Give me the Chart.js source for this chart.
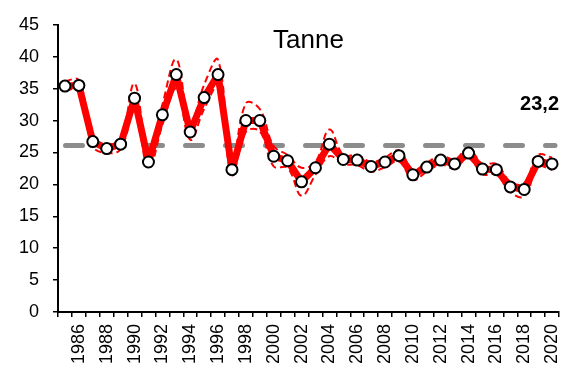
<!DOCTYPE html>
<html>
<head>
<meta charset="utf-8">
<script src="https://cdn.jsdelivr.net/npm/chart.js@4"></script>
<style>
  html, body { margin: 0; padding: 0; background: #fff; }
  #wrap { width: 571px; height: 373px; }
</style>
</head>
<body>
<div id="wrap"><canvas id="chart" width="571" height="373"></canvas></div>
<script>
// Tanne - yearly values with upper/lower smoothed band and long-term mean

const years = ['1985', '1986', '1987', '1988', '1989', '1990', '1991', '1992', '1993', '1994',
    '1995', '1996', '1997', '1998', '1999', '2000', '2001', '2002', '2003', '2004',
    '2005', '2006', '2007', '2008', '2009', '2010', '2011', '2012', '2013', '2014',
    '2015', '2016', '2017', '2018', '2019', '2020'];

const values = [35.4, 35.5, 26.7, 25.6, 26.3, 33.5, 23.5, 30.9, 37.2, 28.2,
    33.6, 37.2, 22.3, 30.0, 30.0, 24.4, 23.7, 20.4, 22.6, 26.3,
    23.9, 23.8, 22.8, 23.5, 24.5, 21.5, 22.7, 23.8, 23.2, 24.9,
    22.4, 22.3, 19.6, 19.2, 23.6, 23.2];

const upperBand = [36.2, 36.3, 27.4, 26.3, 27.2, 35.8, 24.6, 32.5, 39.6, 29.5,
    35.6, 39.5, 23.2, 32.7, 31.8, 26.0, 24.6, 22.6, 23.5, 28.6,
    24.6, 24.6, 23.5, 24.2, 25.3, 22.3, 23.4, 24.5, 23.9, 25.6,
    23.2, 23.2, 20.4, 20.2, 24.6, 24.2];

const lowerBand = [34.7, 34.8, 26.0, 24.9, 25.5, 31.5, 22.5, 29.3, 35.0, 27.0,
    31.8, 35.2, 21.5, 28.2, 28.3, 22.8, 22.6, 18.2, 21.5, 24.4,
    23.2, 23.0, 22.0, 22.7, 23.6, 20.7, 22.0, 23.1, 22.5, 24.2,
    21.6, 21.5, 18.8, 18.1, 22.7, 22.3];

const meanValue = 26.1;
const chartTitle = 'Tanne';

const FONT = '"Liberation Sans", Arial, sans-serif';

// Draws the mean line (behind the series), the title and the last-value label
const overlayPlugin = {
    id: 'overlay',
    beforeDatasetsDraw(chart) {
        const ctx = chart.ctx;
        const area = chart.chartArea;
        const y = chart.scales.y.getPixelForValue(meanValue);
        ctx.save();
        ctx.strokeStyle = '#8c8c8c';
        ctx.lineWidth = 5;
        ctx.lineCap = 'round';
        ctx.setLineDash([17, 23]);
        ctx.beginPath();
        ctx.moveTo(area.left + 7.5, y);
        ctx.lineTo(area.right - 4, y);
        ctx.stroke();
        ctx.restore();
    },
    afterDraw(chart) {
        const ctx = chart.ctx;
        const area = chart.chartArea;
        ctx.save();
        ctx.fillStyle = '#000';
        ctx.font = '26px ' + FONT;
        ctx.textAlign = 'center';
        ctx.textBaseline = 'middle';
        ctx.fillText(chartTitle, (area.left + area.right) / 2, 41);

        const last = values[values.length - 1].toFixed(1).replace('.', ',');
        ctx.font = 'bold 20px ' + FONT;
        ctx.textAlign = 'right';
        ctx.textBaseline = 'alphabetic';
        ctx.fillText(last, area.right, 110);
        ctx.restore();
    }
};

const ctx = document.getElementById('chart').getContext('2d');
new Chart(ctx, {
    type: 'line',
    data: {
        labels: years,
        datasets: [
            {
                label: 'Upper',
                data: upperBand,
                borderColor: '#ff0000',
                borderWidth: 2,
                borderDash: [7, 4],
                tension: 0.4,
                pointRadius: 0,
                fill: false,
                order: 3
            },
            {
                label: 'Lower',
                data: lowerBand,
                borderColor: '#ff0000',
                borderWidth: 2,
                borderDash: [7, 4],
                tension: 0.4,
                pointRadius: 0,
                fill: false,
                order: 2
            },
            {
                label: chartTitle,
                data: values,
                borderColor: '#ff0000',
                borderWidth: 7,
                borderJoinStyle: 'round',
                borderCapStyle: 'round',
                tension: 0,
                pointRadius: 5.5,
                pointBackgroundColor: '#ffffff',
                pointBorderColor: '#000000',
                pointBorderWidth: 2,
                fill: false,
                order: 1
            }
        ]
    },
    options: {
        responsive: false,
        devicePixelRatio: 1,
        animation: false,
        layout: {
            padding: { top: 20, right: 12, left: 0, bottom: 0 }
        },
        plugins: {
            legend: { display: false },
            tooltip: { enabled: false },
            title: { display: false }
        },
        scales: {
            x: {
                type: 'category',
                offset: true,
                grid: {
                    offset: true,
                    display: true,
                    drawOnChartArea: false,
                    drawTicks: true,
                    tickLength: 5,
                    color: '#000',
                    lineWidth: 1.5
                },
                border: { display: true, color: '#000', width: 2 },
                ticks: {
                    autoSkip: false,
                    maxRotation: 90,
                    minRotation: 90,
                    padding: 7,
                    color: '#000',
                    font: { family: FONT, size: 18 },
                    callback: function (val, index) {
                        const yr = parseInt(this.getLabelForValue(val), 10);
                        return yr % 2 === 0 ? String(yr) : '';
                    }
                },
                afterFit(scale) {
                    scale.height = 61;
                    scale.paddingLeft = 0;
                    scale.paddingRight = 0;
                }
            },
            y: {
                min: 0,
                max: 45,
                grid: {
                    display: true,
                    drawOnChartArea: false,
                    drawTicks: true,
                    tickLength: 5,
                    color: '#000',
                    lineWidth: 1.5
                },
                border: { display: true, color: '#000', width: 2 },
                ticks: {
                    stepSize: 5,
                    padding: 14,
                    color: '#000',
                    font: { family: FONT, size: 18 }
                },
                afterFit(scale) { scale.width = 58; }
            }
        }
    },
    plugins: [overlayPlugin]
});
</script>
</body>
</html>
